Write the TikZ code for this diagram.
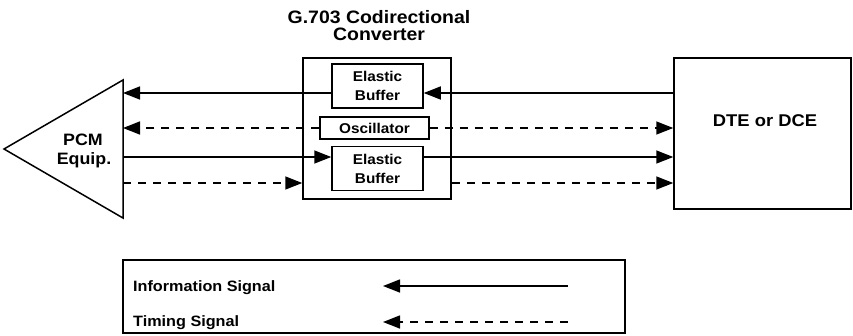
\documentclass[tikz,border=0pt]{standalone}
\usepackage{fontspec}
\setmainfont{Liberation Sans}[FakeStretch=1.08]
\usetikzlibrary{arrows.meta}
\begin{document}
\begin{tikzpicture}[x=1pt,y=-1pt,
  box/.style={draw,line width=1.5pt,inner sep=0pt,align=center,
    font=\fontsize{14.2}{19}\selectfont\bfseries},
  sig/.style={line width=1.5pt,-{Triangle[length=17pt,width=13pt]}},
  tim/.style={sig,dash pattern=on 8pt off 7pt},
  lbl/.style={inner sep=0pt,font=\fontsize{17}{19}\selectfont\bfseries},
  leglbl/.style={inner sep=0pt,font=\fontsize{15}{18}\selectfont\bfseries}]
\useasboundingbox (0,0) rectangle (853,335);

% signal rows
\coordinate (r1) at (0,93);
\coordinate (r2) at (0,128);
\coordinate (r3) at (0,157);
\coordinate (r4) at (0,183);

% converter with its inner blocks
\node[inner sep=0pt,align=center,anchor=south,
  font=\fontsize{18}{17}\selectfont\bfseries] (title) at (379,40.8)
  {G.703 Codirectional\\Converter};
\node[box,minimum width=148pt,minimum height=141pt] (conv) at (377,128.5) {};
\node[box,minimum width=91pt,minimum height=44pt] (ebt) at (377.5,86) {Elastic\\Buffer};
\node[box,minimum width=109pt,minimum height=22pt] (osc) at (374.5,128) {Oscillator};
\node[box,minimum width=91pt,minimum height=44pt] (ebb) at (377.5,168.5) {Elastic\\Buffer};

% terminal equipment
\node[box,minimum width=177pt,minimum height=151pt] (dte) at (762.5,133.5) {};
\node[lbl,anchor=base] (dtel) at (765,126.7) {DTE or DCE};

% PCM equipment (triangle)
\draw[line width=1.5pt,line join=miter] (123,80) -- (4,149) -- (123,218) -- cycle;
\coordinate (pcm) at (123,149);
\node[lbl,anchor=base,font=\fontsize{16.5}{19}\selectfont\bfseries] (pcm1) at (83,145) {PCM};
\node[lbl,anchor=base,font=\fontsize{16.5}{19}\selectfont\bfseries] (pcm2) at (84,164) {Equip.};

% signals
\draw[sig] (dte.west |- r1) -- (ebt.east |- r1);
\draw[sig] (ebt.west |- r1) -- (pcm |- r1);
\draw[tim] (osc.west) -- (pcm |- r2);
\draw[tim] (osc.east) -- (dte.west |- r2);
\draw[sig] (pcm |- r3) -- (ebb.west |- r3);
\draw[sig] (ebb.east |- r3) -- (dte.west |- r3);
\draw[tim] (pcm |- r4) -- (conv.west |- r4);
\draw[tim] (conv.east |- r4) -- (dte.west |- r4);

% legend
\node[draw,line width=1.5pt,inner sep=0pt,minimum width=502pt,minimum height=73pt] (leg) at (374,296.5) {};
\node[leglbl,anchor=base west] (info) at (133,291) {Information Signal};
\node[leglbl,anchor=base west] (timing) at (133,326) {Timing Signal};
\coordinate (infoS) at (568,286);
\coordinate (infoE) at (383,286);
\coordinate (timS) at (568,322);
\coordinate (timE) at (383,322);
\draw[sig] (infoS) -- (infoE);
\draw[tim] (timS) -- (timE);
\end{tikzpicture}
\end{document}
